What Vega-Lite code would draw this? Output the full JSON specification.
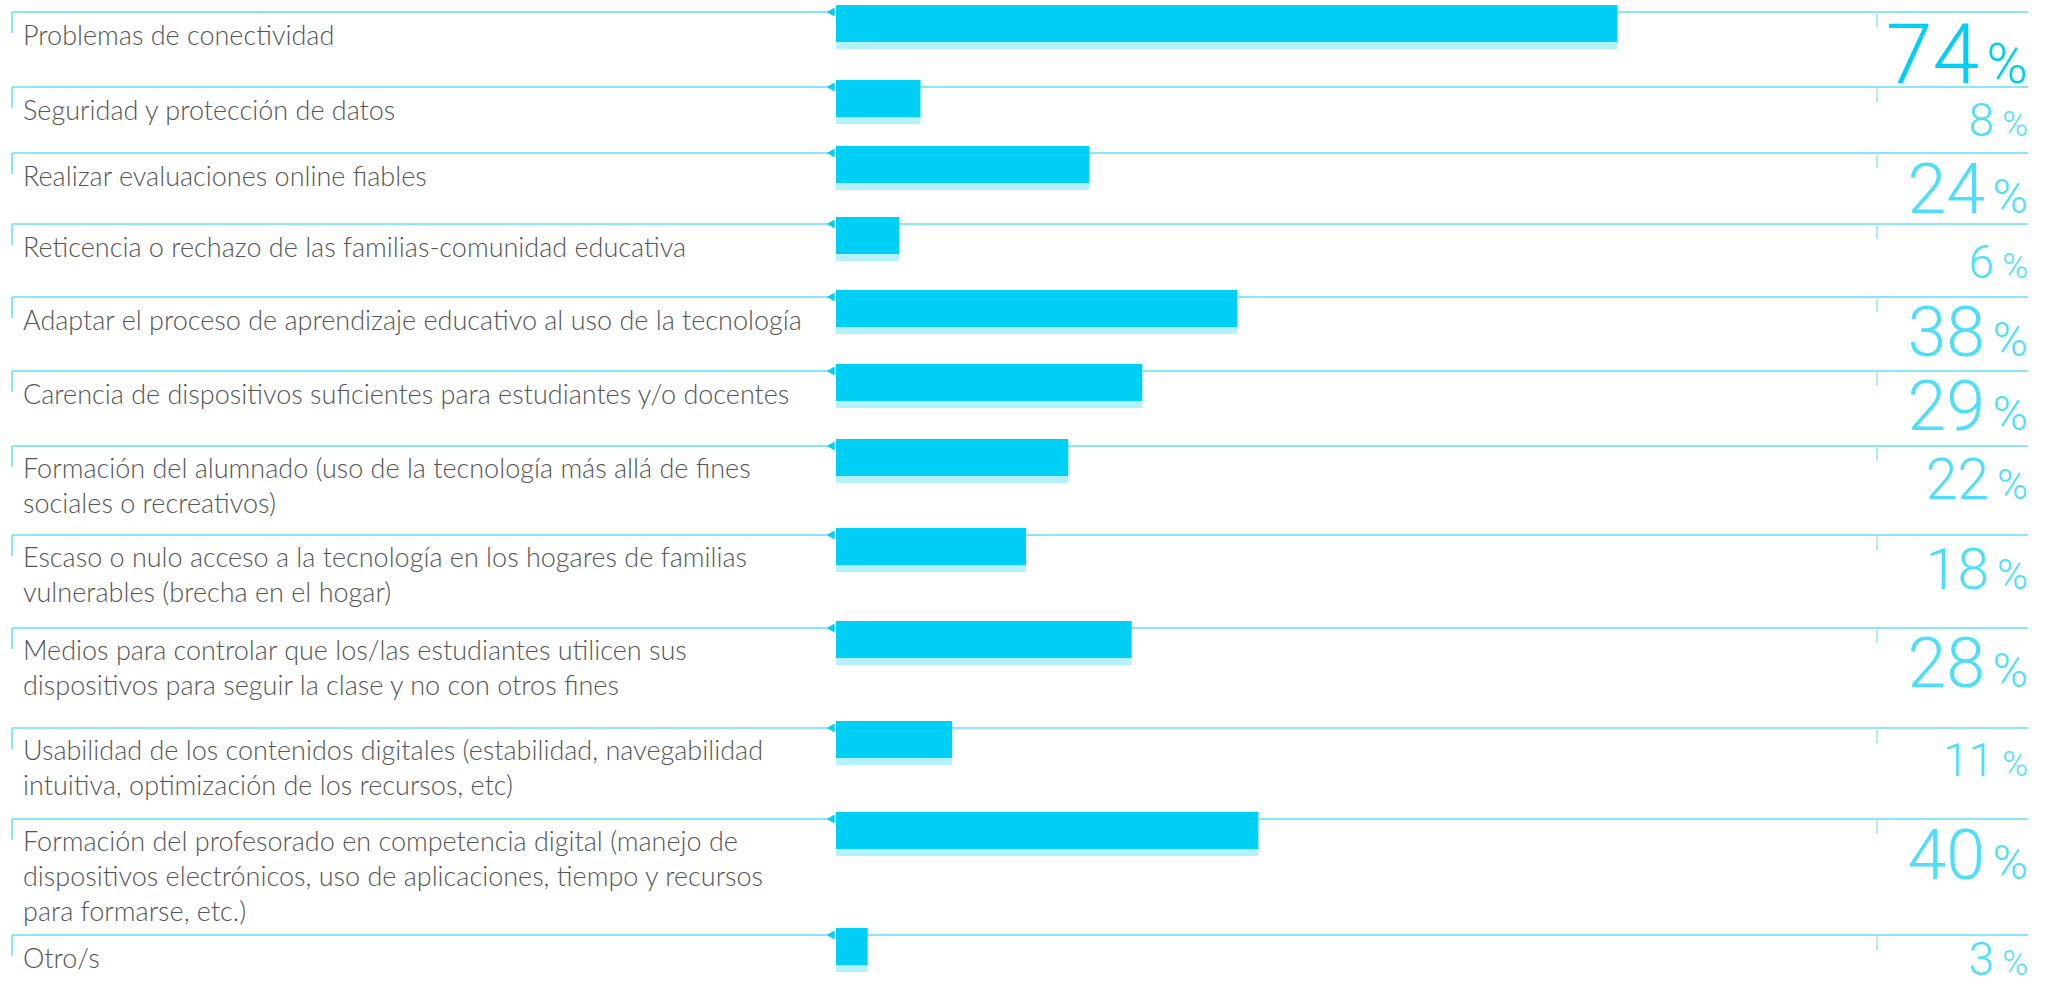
{
"$schema":"https://vega.github.io/schema/vega-lite/v6.json",
"padding":0,"spacing":0,"bounds":"flush","background":"white",
"config":{"view":{"stroke":null},"concat":{"spacing":0}},
"data":{"values":[
{"i":1,"label":"Problemas de conectividad","v":74},
{"i":2,"label":"Seguridad y protección de datos","v":8},
{"i":3,"label":"Realizar evaluaciones online fiables","v":24},
{"i":4,"label":"Reticencia o rechazo de las familias-comunidad educativa","v":6},
{"i":5,"label":"Adaptar el proceso de aprendizaje educativo al uso de la tecnología","v":38},
{"i":6,"label":"Carencia de dispositivos suficientes para estudiantes y/o docentes","v":29},
{"i":7,"label":["Formación del alumnado (uso de la tecnología más allá de fines","sociales o recreativos)"],"v":22},
{"i":8,"label":["Escaso o nulo acceso a la tecnología en los hogares de familias","vulnerables (brecha en el hogar)"],"v":18},
{"i":9,"label":["Medios para controlar que los/las estudiantes utilicen sus","dispositivos para seguir la clase y no con otros fines"],"v":28},
{"i":10,"label":["Usabilidad de los contenidos digitales (estabilidad, navegabilidad","intuitiva, optimización de los recursos, etc)"],"v":11},
{"i":11,"label":["Formación del profesorado en competencia digital (manejo de","dispositivos electrónicos, uso de aplicaciones, tiempo y recursos","para formarse, etc.)"],"v":40},
{"i":12,"label":"Otro/s","v":3}
]},
"vconcat":[
{"width":2051,"height":75,"transform":[{"filter":"datum.i==1"}],"resolve":{"scale":{"size":"independent"}},"layer":[
{"mark":{"type":"rule","color":"#8ce6f8","strokeWidth":2},"encoding":{"x":{"datum":-78.03,"type":"quantitative","scale":{"domain":[-79.167,115.057],"nice":false,"zero":false},"axis":null},"x2":{"datum":112.88},"y":{"datum":12,"type":"quantitative","scale":{"domain":[0,75],"reverse":true,"nice":false,"zero":false},"axis":null}}},
{"mark":{"type":"rule","color":"#8ce6f8","strokeWidth":2},"encoding":{"x":{"datum":-78.03,"type":"quantitative"},"y":{"datum":12,"type":"quantitative"},"y2":{"datum":33}}},
{"mark":{"type":"rule","color":"#8ce6f8","strokeWidth":1.5},"encoding":{"x":{"datum":98.58,"type":"quantitative"},"y":{"datum":14,"type":"quantitative"},"y2":{"datum":27}}},
{"mark":{"type":"rect","color":"#b3f1fb"},"encoding":{"x":{"field":"v","type":"quantitative"},"x2":{"datum":0},"y":{"datum":42,"type":"quantitative"},"y2":{"datum":49}}},
{"mark":{"type":"rect","color":"#00cff5"},"encoding":{"x":{"field":"v","type":"quantitative"},"x2":{"datum":0},"y":{"datum":5,"type":"quantitative"},"y2":{"datum":42}}},
{"mark":{"type":"point","shape":"triangle-left","filled":true,"size":80,"color":"#00cff5","opacity":1},"encoding":{"x":{"datum":-0.5,"type":"quantitative"},"y":{"datum":12,"type":"quantitative"}}},
{"mark":{"type":"text","align":"left","baseline":"alphabetic","font":"Lato","fontWeight":300,"fontSize":27,"color":"#555555","lineHeight":35},"encoding":{"x":{"datum":-76.99,"type":"quantitative"},"y":{"datum":45,"type":"quantitative"},"text":{"field":"label"}}},
{"mark":{"type":"text","align":"right","baseline":"alphabetic","font":"Roboto","fontWeight":300},"encoding":{"x":{"datum":108.24,"type":"quantitative"},"y":{"datum":83,"type":"quantitative"},"text":{"field":"v","type":"quantitative"},"size":{"field":"v","type":"quantitative","scale":{"type":"threshold","domain":[12,23,50],"range":[46,57,70,84]},"legend":null},"color":{"field":"v","type":"quantitative","scale":{"type":"threshold","domain":[50],"range":["#4ddff9","#00cff5"]},"legend":null}}},
{"mark":{"type":"text","align":"right","baseline":"alphabetic","font":"Roboto","fontWeight":300,"text":"%"},"encoding":{"x":{"datum":112.88,"type":"quantitative"},"y":{"datum":83,"type":"quantitative"},"size":{"field":"v","type":"quantitative","scale":{"type":"threshold","domain":[12,23,50],"range":[35,42,48,56]},"legend":null},"color":{"field":"v","type":"quantitative","scale":{"type":"threshold","domain":[50],"range":["#4ddff9","#00cff5"]},"legend":null}}}
]},
{"width":2051,"height":66,"transform":[{"filter":"datum.i==2"}],"resolve":{"scale":{"size":"independent"}},"layer":[
{"mark":{"type":"rule","color":"#8ce6f8","strokeWidth":2},"encoding":{"x":{"datum":-78.03,"type":"quantitative","scale":{"domain":[-79.167,115.057],"nice":false,"zero":false},"axis":null},"x2":{"datum":112.88},"y":{"datum":12,"type":"quantitative","scale":{"domain":[0,66],"reverse":true,"nice":false,"zero":false},"axis":null}}},
{"mark":{"type":"rule","color":"#8ce6f8","strokeWidth":2},"encoding":{"x":{"datum":-78.03,"type":"quantitative"},"y":{"datum":12,"type":"quantitative"},"y2":{"datum":33}}},
{"mark":{"type":"rule","color":"#8ce6f8","strokeWidth":1.5},"encoding":{"x":{"datum":98.58,"type":"quantitative"},"y":{"datum":14,"type":"quantitative"},"y2":{"datum":27}}},
{"mark":{"type":"rect","color":"#b3f1fb"},"encoding":{"x":{"field":"v","type":"quantitative"},"x2":{"datum":0},"y":{"datum":42,"type":"quantitative"},"y2":{"datum":49}}},
{"mark":{"type":"rect","color":"#00cff5"},"encoding":{"x":{"field":"v","type":"quantitative"},"x2":{"datum":0},"y":{"datum":5,"type":"quantitative"},"y2":{"datum":42}}},
{"mark":{"type":"point","shape":"triangle-left","filled":true,"size":80,"color":"#00cff5","opacity":1},"encoding":{"x":{"datum":-0.5,"type":"quantitative"},"y":{"datum":12,"type":"quantitative"}}},
{"mark":{"type":"text","align":"left","baseline":"alphabetic","font":"Lato","fontWeight":300,"fontSize":27,"color":"#555555","lineHeight":35},"encoding":{"x":{"datum":-76.99,"type":"quantitative"},"y":{"datum":45,"type":"quantitative"},"text":{"field":"label"}}},
{"mark":{"type":"text","align":"right","baseline":"alphabetic","font":"Roboto","fontWeight":300},"encoding":{"x":{"datum":109.66,"type":"quantitative"},"y":{"datum":61,"type":"quantitative"},"text":{"field":"v","type":"quantitative"},"size":{"field":"v","type":"quantitative","scale":{"type":"threshold","domain":[12,23,50],"range":[46,57,70,84]},"legend":null},"color":{"field":"v","type":"quantitative","scale":{"type":"threshold","domain":[50],"range":["#4ddff9","#00cff5"]},"legend":null}}},
{"mark":{"type":"text","align":"right","baseline":"alphabetic","font":"Roboto","fontWeight":300,"text":"%"},"encoding":{"x":{"datum":112.88,"type":"quantitative"},"y":{"datum":61,"type":"quantitative"},"size":{"field":"v","type":"quantitative","scale":{"type":"threshold","domain":[12,23,50],"range":[35,42,48,56]},"legend":null},"color":{"field":"v","type":"quantitative","scale":{"type":"threshold","domain":[50],"range":["#4ddff9","#00cff5"]},"legend":null}}}
]},
{"width":2051,"height":71,"transform":[{"filter":"datum.i==3"}],"resolve":{"scale":{"size":"independent"}},"layer":[
{"mark":{"type":"rule","color":"#8ce6f8","strokeWidth":2},"encoding":{"x":{"datum":-78.03,"type":"quantitative","scale":{"domain":[-79.167,115.057],"nice":false,"zero":false},"axis":null},"x2":{"datum":112.88},"y":{"datum":12,"type":"quantitative","scale":{"domain":[0,71],"reverse":true,"nice":false,"zero":false},"axis":null}}},
{"mark":{"type":"rule","color":"#8ce6f8","strokeWidth":2},"encoding":{"x":{"datum":-78.03,"type":"quantitative"},"y":{"datum":12,"type":"quantitative"},"y2":{"datum":33}}},
{"mark":{"type":"rule","color":"#8ce6f8","strokeWidth":1.5},"encoding":{"x":{"datum":98.58,"type":"quantitative"},"y":{"datum":14,"type":"quantitative"},"y2":{"datum":27}}},
{"mark":{"type":"rect","color":"#b3f1fb"},"encoding":{"x":{"field":"v","type":"quantitative"},"x2":{"datum":0},"y":{"datum":42,"type":"quantitative"},"y2":{"datum":49}}},
{"mark":{"type":"rect","color":"#00cff5"},"encoding":{"x":{"field":"v","type":"quantitative"},"x2":{"datum":0},"y":{"datum":5,"type":"quantitative"},"y2":{"datum":42}}},
{"mark":{"type":"point","shape":"triangle-left","filled":true,"size":80,"color":"#00cff5","opacity":1},"encoding":{"x":{"datum":-0.5,"type":"quantitative"},"y":{"datum":12,"type":"quantitative"}}},
{"mark":{"type":"text","align":"left","baseline":"alphabetic","font":"Lato","fontWeight":300,"fontSize":27,"color":"#555555","lineHeight":35},"encoding":{"x":{"datum":-76.99,"type":"quantitative"},"y":{"datum":45,"type":"quantitative"},"text":{"field":"label"}}},
{"mark":{"type":"text","align":"right","baseline":"alphabetic","font":"Roboto","fontWeight":300},"encoding":{"x":{"datum":108.81,"type":"quantitative"},"y":{"datum":72,"type":"quantitative"},"text":{"field":"v","type":"quantitative"},"size":{"field":"v","type":"quantitative","scale":{"type":"threshold","domain":[12,23,50],"range":[46,57,70,84]},"legend":null},"color":{"field":"v","type":"quantitative","scale":{"type":"threshold","domain":[50],"range":["#4ddff9","#00cff5"]},"legend":null}}},
{"mark":{"type":"text","align":"right","baseline":"alphabetic","font":"Roboto","fontWeight":300,"text":"%"},"encoding":{"x":{"datum":112.88,"type":"quantitative"},"y":{"datum":72,"type":"quantitative"},"size":{"field":"v","type":"quantitative","scale":{"type":"threshold","domain":[12,23,50],"range":[35,42,48,56]},"legend":null},"color":{"field":"v","type":"quantitative","scale":{"type":"threshold","domain":[50],"range":["#4ddff9","#00cff5"]},"legend":null}}}
]},
{"width":2051,"height":73,"transform":[{"filter":"datum.i==4"}],"resolve":{"scale":{"size":"independent"}},"layer":[
{"mark":{"type":"rule","color":"#8ce6f8","strokeWidth":2},"encoding":{"x":{"datum":-78.03,"type":"quantitative","scale":{"domain":[-79.167,115.057],"nice":false,"zero":false},"axis":null},"x2":{"datum":112.88},"y":{"datum":12,"type":"quantitative","scale":{"domain":[0,73],"reverse":true,"nice":false,"zero":false},"axis":null}}},
{"mark":{"type":"rule","color":"#8ce6f8","strokeWidth":2},"encoding":{"x":{"datum":-78.03,"type":"quantitative"},"y":{"datum":12,"type":"quantitative"},"y2":{"datum":33}}},
{"mark":{"type":"rule","color":"#8ce6f8","strokeWidth":1.5},"encoding":{"x":{"datum":98.58,"type":"quantitative"},"y":{"datum":14,"type":"quantitative"},"y2":{"datum":27}}},
{"mark":{"type":"rect","color":"#b3f1fb"},"encoding":{"x":{"field":"v","type":"quantitative"},"x2":{"datum":0},"y":{"datum":42,"type":"quantitative"},"y2":{"datum":49}}},
{"mark":{"type":"rect","color":"#00cff5"},"encoding":{"x":{"field":"v","type":"quantitative"},"x2":{"datum":0},"y":{"datum":5,"type":"quantitative"},"y2":{"datum":42}}},
{"mark":{"type":"point","shape":"triangle-left","filled":true,"size":80,"color":"#00cff5","opacity":1},"encoding":{"x":{"datum":-0.5,"type":"quantitative"},"y":{"datum":12,"type":"quantitative"}}},
{"mark":{"type":"text","align":"left","baseline":"alphabetic","font":"Lato","fontWeight":300,"fontSize":27,"color":"#555555","lineHeight":35},"encoding":{"x":{"datum":-76.99,"type":"quantitative"},"y":{"datum":45,"type":"quantitative"},"text":{"field":"label"}}},
{"mark":{"type":"text","align":"right","baseline":"alphabetic","font":"Roboto","fontWeight":300},"encoding":{"x":{"datum":109.66,"type":"quantitative"},"y":{"datum":66,"type":"quantitative"},"text":{"field":"v","type":"quantitative"},"size":{"field":"v","type":"quantitative","scale":{"type":"threshold","domain":[12,23,50],"range":[46,57,70,84]},"legend":null},"color":{"field":"v","type":"quantitative","scale":{"type":"threshold","domain":[50],"range":["#4ddff9","#00cff5"]},"legend":null}}},
{"mark":{"type":"text","align":"right","baseline":"alphabetic","font":"Roboto","fontWeight":300,"text":"%"},"encoding":{"x":{"datum":112.88,"type":"quantitative"},"y":{"datum":66,"type":"quantitative"},"size":{"field":"v","type":"quantitative","scale":{"type":"threshold","domain":[12,23,50],"range":[35,42,48,56]},"legend":null},"color":{"field":"v","type":"quantitative","scale":{"type":"threshold","domain":[50],"range":["#4ddff9","#00cff5"]},"legend":null}}}
]},
{"width":2051,"height":74,"transform":[{"filter":"datum.i==5"}],"resolve":{"scale":{"size":"independent"}},"layer":[
{"mark":{"type":"rule","color":"#8ce6f8","strokeWidth":2},"encoding":{"x":{"datum":-78.03,"type":"quantitative","scale":{"domain":[-79.167,115.057],"nice":false,"zero":false},"axis":null},"x2":{"datum":112.88},"y":{"datum":12,"type":"quantitative","scale":{"domain":[0,74],"reverse":true,"nice":false,"zero":false},"axis":null}}},
{"mark":{"type":"rule","color":"#8ce6f8","strokeWidth":2},"encoding":{"x":{"datum":-78.03,"type":"quantitative"},"y":{"datum":12,"type":"quantitative"},"y2":{"datum":33}}},
{"mark":{"type":"rule","color":"#8ce6f8","strokeWidth":1.5},"encoding":{"x":{"datum":98.58,"type":"quantitative"},"y":{"datum":14,"type":"quantitative"},"y2":{"datum":27}}},
{"mark":{"type":"rect","color":"#b3f1fb"},"encoding":{"x":{"field":"v","type":"quantitative"},"x2":{"datum":0},"y":{"datum":42,"type":"quantitative"},"y2":{"datum":49}}},
{"mark":{"type":"rect","color":"#00cff5"},"encoding":{"x":{"field":"v","type":"quantitative"},"x2":{"datum":0},"y":{"datum":5,"type":"quantitative"},"y2":{"datum":42}}},
{"mark":{"type":"point","shape":"triangle-left","filled":true,"size":80,"color":"#00cff5","opacity":1},"encoding":{"x":{"datum":-0.5,"type":"quantitative"},"y":{"datum":12,"type":"quantitative"}}},
{"mark":{"type":"text","align":"left","baseline":"alphabetic","font":"Lato","fontWeight":300,"fontSize":27,"color":"#555555","lineHeight":35},"encoding":{"x":{"datum":-76.99,"type":"quantitative"},"y":{"datum":45,"type":"quantitative"},"text":{"field":"label"}}},
{"mark":{"type":"text","align":"right","baseline":"alphabetic","font":"Roboto","fontWeight":300},"encoding":{"x":{"datum":108.81,"type":"quantitative"},"y":{"datum":71,"type":"quantitative"},"text":{"field":"v","type":"quantitative"},"size":{"field":"v","type":"quantitative","scale":{"type":"threshold","domain":[12,23,50],"range":[46,57,70,84]},"legend":null},"color":{"field":"v","type":"quantitative","scale":{"type":"threshold","domain":[50],"range":["#4ddff9","#00cff5"]},"legend":null}}},
{"mark":{"type":"text","align":"right","baseline":"alphabetic","font":"Roboto","fontWeight":300,"text":"%"},"encoding":{"x":{"datum":112.88,"type":"quantitative"},"y":{"datum":71,"type":"quantitative"},"size":{"field":"v","type":"quantitative","scale":{"type":"threshold","domain":[12,23,50],"range":[35,42,48,56]},"legend":null},"color":{"field":"v","type":"quantitative","scale":{"type":"threshold","domain":[50],"range":["#4ddff9","#00cff5"]},"legend":null}}}
]},
{"width":2051,"height":75,"transform":[{"filter":"datum.i==6"}],"resolve":{"scale":{"size":"independent"}},"layer":[
{"mark":{"type":"rule","color":"#8ce6f8","strokeWidth":2},"encoding":{"x":{"datum":-78.03,"type":"quantitative","scale":{"domain":[-79.167,115.057],"nice":false,"zero":false},"axis":null},"x2":{"datum":112.88},"y":{"datum":12,"type":"quantitative","scale":{"domain":[0,75],"reverse":true,"nice":false,"zero":false},"axis":null}}},
{"mark":{"type":"rule","color":"#8ce6f8","strokeWidth":2},"encoding":{"x":{"datum":-78.03,"type":"quantitative"},"y":{"datum":12,"type":"quantitative"},"y2":{"datum":33}}},
{"mark":{"type":"rule","color":"#8ce6f8","strokeWidth":1.5},"encoding":{"x":{"datum":98.58,"type":"quantitative"},"y":{"datum":14,"type":"quantitative"},"y2":{"datum":27}}},
{"mark":{"type":"rect","color":"#b3f1fb"},"encoding":{"x":{"field":"v","type":"quantitative"},"x2":{"datum":0},"y":{"datum":42,"type":"quantitative"},"y2":{"datum":49}}},
{"mark":{"type":"rect","color":"#00cff5"},"encoding":{"x":{"field":"v","type":"quantitative"},"x2":{"datum":0},"y":{"datum":5,"type":"quantitative"},"y2":{"datum":42}}},
{"mark":{"type":"point","shape":"triangle-left","filled":true,"size":80,"color":"#00cff5","opacity":1},"encoding":{"x":{"datum":-0.5,"type":"quantitative"},"y":{"datum":12,"type":"quantitative"}}},
{"mark":{"type":"text","align":"left","baseline":"alphabetic","font":"Lato","fontWeight":300,"fontSize":27,"color":"#555555","lineHeight":35},"encoding":{"x":{"datum":-76.99,"type":"quantitative"},"y":{"datum":45,"type":"quantitative"},"text":{"field":"label"}}},
{"mark":{"type":"text","align":"right","baseline":"alphabetic","font":"Roboto","fontWeight":300},"encoding":{"x":{"datum":108.81,"type":"quantitative"},"y":{"datum":71,"type":"quantitative"},"text":{"field":"v","type":"quantitative"},"size":{"field":"v","type":"quantitative","scale":{"type":"threshold","domain":[12,23,50],"range":[46,57,70,84]},"legend":null},"color":{"field":"v","type":"quantitative","scale":{"type":"threshold","domain":[50],"range":["#4ddff9","#00cff5"]},"legend":null}}},
{"mark":{"type":"text","align":"right","baseline":"alphabetic","font":"Roboto","fontWeight":300,"text":"%"},"encoding":{"x":{"datum":112.88,"type":"quantitative"},"y":{"datum":71,"type":"quantitative"},"size":{"field":"v","type":"quantitative","scale":{"type":"threshold","domain":[12,23,50],"range":[35,42,48,56]},"legend":null},"color":{"field":"v","type":"quantitative","scale":{"type":"threshold","domain":[50],"range":["#4ddff9","#00cff5"]},"legend":null}}}
]},
{"width":2051,"height":89,"transform":[{"filter":"datum.i==7"}],"resolve":{"scale":{"size":"independent"}},"layer":[
{"mark":{"type":"rule","color":"#8ce6f8","strokeWidth":2},"encoding":{"x":{"datum":-78.03,"type":"quantitative","scale":{"domain":[-79.167,115.057],"nice":false,"zero":false},"axis":null},"x2":{"datum":112.88},"y":{"datum":12,"type":"quantitative","scale":{"domain":[0,89],"reverse":true,"nice":false,"zero":false},"axis":null}}},
{"mark":{"type":"rule","color":"#8ce6f8","strokeWidth":2},"encoding":{"x":{"datum":-78.03,"type":"quantitative"},"y":{"datum":12,"type":"quantitative"},"y2":{"datum":33}}},
{"mark":{"type":"rule","color":"#8ce6f8","strokeWidth":1.5},"encoding":{"x":{"datum":98.58,"type":"quantitative"},"y":{"datum":14,"type":"quantitative"},"y2":{"datum":27}}},
{"mark":{"type":"rect","color":"#b3f1fb"},"encoding":{"x":{"field":"v","type":"quantitative"},"x2":{"datum":0},"y":{"datum":42,"type":"quantitative"},"y2":{"datum":49}}},
{"mark":{"type":"rect","color":"#00cff5"},"encoding":{"x":{"field":"v","type":"quantitative"},"x2":{"datum":0},"y":{"datum":5,"type":"quantitative"},"y2":{"datum":42}}},
{"mark":{"type":"point","shape":"triangle-left","filled":true,"size":80,"color":"#00cff5","opacity":1},"encoding":{"x":{"datum":-0.5,"type":"quantitative"},"y":{"datum":12,"type":"quantitative"}}},
{"mark":{"type":"text","align":"left","baseline":"alphabetic","font":"Lato","fontWeight":300,"fontSize":27,"color":"#555555","lineHeight":35},"encoding":{"x":{"datum":-76.99,"type":"quantitative"},"y":{"datum":44,"type":"quantitative"},"text":{"field":"label"}}},
{"mark":{"type":"text","align":"right","baseline":"alphabetic","font":"Roboto","fontWeight":300},"encoding":{"x":{"datum":109.19,"type":"quantitative"},"y":{"datum":65,"type":"quantitative"},"text":{"field":"v","type":"quantitative"},"size":{"field":"v","type":"quantitative","scale":{"type":"threshold","domain":[12,23,50],"range":[46,57,70,84]},"legend":null},"color":{"field":"v","type":"quantitative","scale":{"type":"threshold","domain":[50],"range":["#4ddff9","#00cff5"]},"legend":null}}},
{"mark":{"type":"text","align":"right","baseline":"alphabetic","font":"Roboto","fontWeight":300,"text":"%"},"encoding":{"x":{"datum":112.88,"type":"quantitative"},"y":{"datum":65,"type":"quantitative"},"size":{"field":"v","type":"quantitative","scale":{"type":"threshold","domain":[12,23,50],"range":[35,42,48,56]},"legend":null},"color":{"field":"v","type":"quantitative","scale":{"type":"threshold","domain":[50],"range":["#4ddff9","#00cff5"]},"legend":null}}}
]},
{"width":2051,"height":93,"transform":[{"filter":"datum.i==8"}],"resolve":{"scale":{"size":"independent"}},"layer":[
{"mark":{"type":"rule","color":"#8ce6f8","strokeWidth":2},"encoding":{"x":{"datum":-78.03,"type":"quantitative","scale":{"domain":[-79.167,115.057],"nice":false,"zero":false},"axis":null},"x2":{"datum":112.88},"y":{"datum":12,"type":"quantitative","scale":{"domain":[0,93],"reverse":true,"nice":false,"zero":false},"axis":null}}},
{"mark":{"type":"rule","color":"#8ce6f8","strokeWidth":2},"encoding":{"x":{"datum":-78.03,"type":"quantitative"},"y":{"datum":12,"type":"quantitative"},"y2":{"datum":33}}},
{"mark":{"type":"rule","color":"#8ce6f8","strokeWidth":1.5},"encoding":{"x":{"datum":98.58,"type":"quantitative"},"y":{"datum":14,"type":"quantitative"},"y2":{"datum":27}}},
{"mark":{"type":"rect","color":"#b3f1fb"},"encoding":{"x":{"field":"v","type":"quantitative"},"x2":{"datum":0},"y":{"datum":42,"type":"quantitative"},"y2":{"datum":49}}},
{"mark":{"type":"rect","color":"#00cff5"},"encoding":{"x":{"field":"v","type":"quantitative"},"x2":{"datum":0},"y":{"datum":5,"type":"quantitative"},"y2":{"datum":42}}},
{"mark":{"type":"point","shape":"triangle-left","filled":true,"size":80,"color":"#00cff5","opacity":1},"encoding":{"x":{"datum":-0.5,"type":"quantitative"},"y":{"datum":12,"type":"quantitative"}}},
{"mark":{"type":"text","align":"left","baseline":"alphabetic","font":"Lato","fontWeight":300,"fontSize":27,"color":"#555555","lineHeight":35},"encoding":{"x":{"datum":-76.99,"type":"quantitative"},"y":{"datum":44,"type":"quantitative"},"text":{"field":"label"}}},
{"mark":{"type":"text","align":"right","baseline":"alphabetic","font":"Roboto","fontWeight":300},"encoding":{"x":{"datum":109.19,"type":"quantitative"},"y":{"datum":66,"type":"quantitative"},"text":{"field":"v","type":"quantitative"},"size":{"field":"v","type":"quantitative","scale":{"type":"threshold","domain":[12,23,50],"range":[46,57,70,84]},"legend":null},"color":{"field":"v","type":"quantitative","scale":{"type":"threshold","domain":[50],"range":["#4ddff9","#00cff5"]},"legend":null}}},
{"mark":{"type":"text","align":"right","baseline":"alphabetic","font":"Roboto","fontWeight":300,"text":"%"},"encoding":{"x":{"datum":112.88,"type":"quantitative"},"y":{"datum":66,"type":"quantitative"},"size":{"field":"v","type":"quantitative","scale":{"type":"threshold","domain":[12,23,50],"range":[35,42,48,56]},"legend":null},"color":{"field":"v","type":"quantitative","scale":{"type":"threshold","domain":[50],"range":["#4ddff9","#00cff5"]},"legend":null}}}
]},
{"width":2051,"height":100,"transform":[{"filter":"datum.i==9"}],"resolve":{"scale":{"size":"independent"}},"layer":[
{"mark":{"type":"rule","color":"#8ce6f8","strokeWidth":2},"encoding":{"x":{"datum":-78.03,"type":"quantitative","scale":{"domain":[-79.167,115.057],"nice":false,"zero":false},"axis":null},"x2":{"datum":112.88},"y":{"datum":12,"type":"quantitative","scale":{"domain":[0,100],"reverse":true,"nice":false,"zero":false},"axis":null}}},
{"mark":{"type":"rule","color":"#8ce6f8","strokeWidth":2},"encoding":{"x":{"datum":-78.03,"type":"quantitative"},"y":{"datum":12,"type":"quantitative"},"y2":{"datum":33}}},
{"mark":{"type":"rule","color":"#8ce6f8","strokeWidth":1.5},"encoding":{"x":{"datum":98.58,"type":"quantitative"},"y":{"datum":14,"type":"quantitative"},"y2":{"datum":27}}},
{"mark":{"type":"rect","color":"#b3f1fb"},"encoding":{"x":{"field":"v","type":"quantitative"},"x2":{"datum":0},"y":{"datum":42,"type":"quantitative"},"y2":{"datum":49}}},
{"mark":{"type":"rect","color":"#00cff5"},"encoding":{"x":{"field":"v","type":"quantitative"},"x2":{"datum":0},"y":{"datum":5,"type":"quantitative"},"y2":{"datum":42}}},
{"mark":{"type":"point","shape":"triangle-left","filled":true,"size":80,"color":"#00cff5","opacity":1},"encoding":{"x":{"datum":-0.5,"type":"quantitative"},"y":{"datum":12,"type":"quantitative"}}},
{"mark":{"type":"text","align":"left","baseline":"alphabetic","font":"Lato","fontWeight":300,"fontSize":27,"color":"#555555","lineHeight":35},"encoding":{"x":{"datum":-76.99,"type":"quantitative"},"y":{"datum":44,"type":"quantitative"},"text":{"field":"label"}}},
{"mark":{"type":"text","align":"right","baseline":"alphabetic","font":"Roboto","fontWeight":300},"encoding":{"x":{"datum":108.81,"type":"quantitative"},"y":{"datum":71,"type":"quantitative"},"text":{"field":"v","type":"quantitative"},"size":{"field":"v","type":"quantitative","scale":{"type":"threshold","domain":[12,23,50],"range":[46,57,70,84]},"legend":null},"color":{"field":"v","type":"quantitative","scale":{"type":"threshold","domain":[50],"range":["#4ddff9","#00cff5"]},"legend":null}}},
{"mark":{"type":"text","align":"right","baseline":"alphabetic","font":"Roboto","fontWeight":300,"text":"%"},"encoding":{"x":{"datum":112.88,"type":"quantitative"},"y":{"datum":71,"type":"quantitative"},"size":{"field":"v","type":"quantitative","scale":{"type":"threshold","domain":[12,23,50],"range":[35,42,48,56]},"legend":null},"color":{"field":"v","type":"quantitative","scale":{"type":"threshold","domain":[50],"range":["#4ddff9","#00cff5"]},"legend":null}}}
]},
{"width":2051,"height":91,"transform":[{"filter":"datum.i==10"}],"resolve":{"scale":{"size":"independent"}},"layer":[
{"mark":{"type":"rule","color":"#8ce6f8","strokeWidth":2},"encoding":{"x":{"datum":-78.03,"type":"quantitative","scale":{"domain":[-79.167,115.057],"nice":false,"zero":false},"axis":null},"x2":{"datum":112.88},"y":{"datum":12,"type":"quantitative","scale":{"domain":[0,91],"reverse":true,"nice":false,"zero":false},"axis":null}}},
{"mark":{"type":"rule","color":"#8ce6f8","strokeWidth":2},"encoding":{"x":{"datum":-78.03,"type":"quantitative"},"y":{"datum":12,"type":"quantitative"},"y2":{"datum":33}}},
{"mark":{"type":"rule","color":"#8ce6f8","strokeWidth":1.5},"encoding":{"x":{"datum":98.58,"type":"quantitative"},"y":{"datum":14,"type":"quantitative"},"y2":{"datum":27}}},
{"mark":{"type":"rect","color":"#b3f1fb"},"encoding":{"x":{"field":"v","type":"quantitative"},"x2":{"datum":0},"y":{"datum":42,"type":"quantitative"},"y2":{"datum":49}}},
{"mark":{"type":"rect","color":"#00cff5"},"encoding":{"x":{"field":"v","type":"quantitative"},"x2":{"datum":0},"y":{"datum":5,"type":"quantitative"},"y2":{"datum":42}}},
{"mark":{"type":"point","shape":"triangle-left","filled":true,"size":80,"color":"#00cff5","opacity":1},"encoding":{"x":{"datum":-0.5,"type":"quantitative"},"y":{"datum":12,"type":"quantitative"}}},
{"mark":{"type":"text","align":"left","baseline":"alphabetic","font":"Lato","fontWeight":300,"fontSize":27,"color":"#555555","lineHeight":35},"encoding":{"x":{"datum":-76.99,"type":"quantitative"},"y":{"datum":44,"type":"quantitative"},"text":{"field":"label"}}},
{"mark":{"type":"text","align":"right","baseline":"alphabetic","font":"Roboto","fontWeight":300},"encoding":{"x":{"datum":109.66,"type":"quantitative"},"y":{"datum":60,"type":"quantitative"},"text":{"field":"v","type":"quantitative"},"size":{"field":"v","type":"quantitative","scale":{"type":"threshold","domain":[12,23,50],"range":[46,57,70,84]},"legend":null},"color":{"field":"v","type":"quantitative","scale":{"type":"threshold","domain":[50],"range":["#4ddff9","#00cff5"]},"legend":null}}},
{"mark":{"type":"text","align":"right","baseline":"alphabetic","font":"Roboto","fontWeight":300,"text":"%"},"encoding":{"x":{"datum":112.88,"type":"quantitative"},"y":{"datum":60,"type":"quantitative"},"size":{"field":"v","type":"quantitative","scale":{"type":"threshold","domain":[12,23,50],"range":[35,42,48,56]},"legend":null},"color":{"field":"v","type":"quantitative","scale":{"type":"threshold","domain":[50],"range":["#4ddff9","#00cff5"]},"legend":null}}}
]},
{"width":2051,"height":116,"transform":[{"filter":"datum.i==11"}],"resolve":{"scale":{"size":"independent"}},"layer":[
{"mark":{"type":"rule","color":"#8ce6f8","strokeWidth":2},"encoding":{"x":{"datum":-78.03,"type":"quantitative","scale":{"domain":[-79.167,115.057],"nice":false,"zero":false},"axis":null},"x2":{"datum":112.88},"y":{"datum":12,"type":"quantitative","scale":{"domain":[0,116],"reverse":true,"nice":false,"zero":false},"axis":null}}},
{"mark":{"type":"rule","color":"#8ce6f8","strokeWidth":2},"encoding":{"x":{"datum":-78.03,"type":"quantitative"},"y":{"datum":12,"type":"quantitative"},"y2":{"datum":33}}},
{"mark":{"type":"rule","color":"#8ce6f8","strokeWidth":1.5},"encoding":{"x":{"datum":98.58,"type":"quantitative"},"y":{"datum":14,"type":"quantitative"},"y2":{"datum":27}}},
{"mark":{"type":"rect","color":"#b3f1fb"},"encoding":{"x":{"field":"v","type":"quantitative"},"x2":{"datum":0},"y":{"datum":42,"type":"quantitative"},"y2":{"datum":49}}},
{"mark":{"type":"rect","color":"#00cff5"},"encoding":{"x":{"field":"v","type":"quantitative"},"x2":{"datum":0},"y":{"datum":5,"type":"quantitative"},"y2":{"datum":42}}},
{"mark":{"type":"point","shape":"triangle-left","filled":true,"size":80,"color":"#00cff5","opacity":1},"encoding":{"x":{"datum":-0.5,"type":"quantitative"},"y":{"datum":12,"type":"quantitative"}}},
{"mark":{"type":"text","align":"left","baseline":"alphabetic","font":"Lato","fontWeight":300,"fontSize":27,"color":"#555555","lineHeight":35},"encoding":{"x":{"datum":-76.99,"type":"quantitative"},"y":{"datum":44,"type":"quantitative"},"text":{"field":"label"}}},
{"mark":{"type":"text","align":"right","baseline":"alphabetic","font":"Roboto","fontWeight":300},"encoding":{"x":{"datum":108.81,"type":"quantitative"},"y":{"datum":72,"type":"quantitative"},"text":{"field":"v","type":"quantitative"},"size":{"field":"v","type":"quantitative","scale":{"type":"threshold","domain":[12,23,50],"range":[46,57,70,84]},"legend":null},"color":{"field":"v","type":"quantitative","scale":{"type":"threshold","domain":[50],"range":["#4ddff9","#00cff5"]},"legend":null}}},
{"mark":{"type":"text","align":"right","baseline":"alphabetic","font":"Roboto","fontWeight":300,"text":"%"},"encoding":{"x":{"datum":112.88,"type":"quantitative"},"y":{"datum":72,"type":"quantitative"},"size":{"field":"v","type":"quantitative","scale":{"type":"threshold","domain":[12,23,50],"range":[35,42,48,56]},"legend":null},"color":{"field":"v","type":"quantitative","scale":{"type":"threshold","domain":[50],"range":["#4ddff9","#00cff5"]},"legend":null}}}
]},
{"width":2051,"height":63,"transform":[{"filter":"datum.i==12"}],"resolve":{"scale":{"size":"independent"}},"layer":[
{"mark":{"type":"rule","color":"#8ce6f8","strokeWidth":2},"encoding":{"x":{"datum":-78.03,"type":"quantitative","scale":{"domain":[-79.167,115.057],"nice":false,"zero":false},"axis":null},"x2":{"datum":112.88},"y":{"datum":12,"type":"quantitative","scale":{"domain":[0,63],"reverse":true,"nice":false,"zero":false},"axis":null}}},
{"mark":{"type":"rule","color":"#8ce6f8","strokeWidth":2},"encoding":{"x":{"datum":-78.03,"type":"quantitative"},"y":{"datum":12,"type":"quantitative"},"y2":{"datum":33}}},
{"mark":{"type":"rule","color":"#8ce6f8","strokeWidth":1.5},"encoding":{"x":{"datum":98.58,"type":"quantitative"},"y":{"datum":14,"type":"quantitative"},"y2":{"datum":27}}},
{"mark":{"type":"rect","color":"#b3f1fb"},"encoding":{"x":{"field":"v","type":"quantitative"},"x2":{"datum":0},"y":{"datum":42,"type":"quantitative"},"y2":{"datum":49}}},
{"mark":{"type":"rect","color":"#00cff5"},"encoding":{"x":{"field":"v","type":"quantitative"},"x2":{"datum":0},"y":{"datum":5,"type":"quantitative"},"y2":{"datum":42}}},
{"mark":{"type":"point","shape":"triangle-left","filled":true,"size":80,"color":"#00cff5","opacity":1},"encoding":{"x":{"datum":-0.5,"type":"quantitative"},"y":{"datum":12,"type":"quantitative"}}},
{"mark":{"type":"text","align":"left","baseline":"alphabetic","font":"Lato","fontWeight":300,"fontSize":27,"color":"#555555","lineHeight":35},"encoding":{"x":{"datum":-76.99,"type":"quantitative"},"y":{"datum":45,"type":"quantitative"},"text":{"field":"label"}}},
{"mark":{"type":"text","align":"right","baseline":"alphabetic","font":"Roboto","fontWeight":300},"encoding":{"x":{"datum":109.66,"type":"quantitative"},"y":{"datum":52,"type":"quantitative"},"text":{"field":"v","type":"quantitative"},"size":{"field":"v","type":"quantitative","scale":{"type":"threshold","domain":[12,23,50],"range":[46,57,70,84]},"legend":null},"color":{"field":"v","type":"quantitative","scale":{"type":"threshold","domain":[50],"range":["#4ddff9","#00cff5"]},"legend":null}}},
{"mark":{"type":"text","align":"right","baseline":"alphabetic","font":"Roboto","fontWeight":300,"text":"%"},"encoding":{"x":{"datum":112.88,"type":"quantitative"},"y":{"datum":52,"type":"quantitative"},"size":{"field":"v","type":"quantitative","scale":{"type":"threshold","domain":[12,23,50],"range":[35,42,48,56]},"legend":null},"color":{"field":"v","type":"quantitative","scale":{"type":"threshold","domain":[50],"range":["#4ddff9","#00cff5"]},"legend":null}}}
]}
]
}
